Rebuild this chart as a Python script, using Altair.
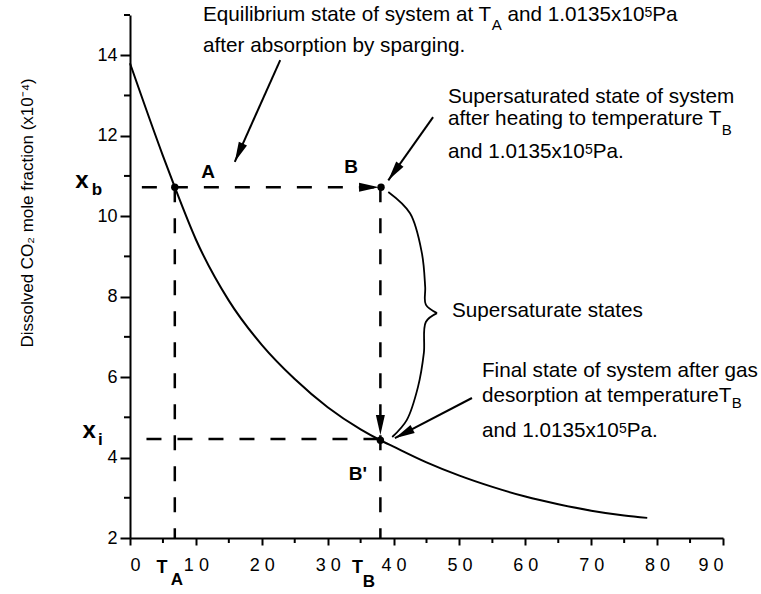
import math
import altair as alt
import pandas as pd

# ---------------- data ----------------
temp_c = [0, 5, 6.8, 10, 15, 20, 25, 30, 35, 38.0, 40, 45, 50, 55, 60, 65, 70, 75, 78.5]
co2_frac = [13.8, 11.5, 10.72, 9.42, 7.9, 6.8, 5.95, 5.25, 4.7, 4.43, 4.27, 3.88, 3.55, 3.27, 3.03, 2.84, 2.68, 2.56, 2.5]

x_ticks = [0, 10, 20, 30, 40, 50, 60, 70, 80, 90]
x_minor = [5, 15, 25, 35, 45, 55, 65, 75, 85]
y_ticks = [2, 4, 6, 8, 10, 12, 14]
y_minor = [3, 5, 7, 9, 11, 13, 15]

state_name = ["A", "B", "B'"]
state_t = [6.8, 38.1, 38.0]
state_x = [10.72, 10.72, 4.43]

# dashed guide lines (segment id, point order, temperature, mole fraction)
guide_id = ["xb", "xb", "ta", "ta", "tb", "tb", "xi", "xi"]
guide_o = [0, 1, 0, 1, 0, 1, 0, 1]
guide_t = [1.8, 37.7, 6.8, 6.8, 38.0, 38.0, 2.5, 38.0]
guide_x = [10.72, 10.72, 10.72, 2.0, 10.72, 2.0, 4.46, 4.46]

# solid annotation arrows (start -> tip)
arrow_t0 = [22.8, 46.0, 51.9]
arrow_x0 = [13.88, 12.46, 5.48]
arrow_t1 = [15.9, 39.2, 40.2]
arrow_x1 = [11.35, 10.89, 4.48]

# arrow heads: tip and the point they come from
head_t = [37.8, 38.0, 15.9, 39.2, 40.2]
head_x = [10.72, 4.56, 11.35, 10.89, 4.48]
head_from_t = [6.8, 38.0, 22.8, 46.0, 51.9]
head_from_x = [10.72, 10.72, 13.88, 12.46, 5.48]

# brace between B and B'
brace_seg = ["u"] * 6 + ["l"] * 6
brace_t = [39.2, 42.5, 44.3, 44.8, 44.9, 46.6, 46.6, 44.9, 44.6, 43.7, 42.0, 39.8]
brace_x = [10.60, 10.07, 9.08, 8.24, 7.80, 7.59, 7.59, 7.37, 6.60, 5.75, 4.93, 4.51]

# annotation lines: start (temperature, mole fraction at baseline) and pieces
# piece = (text, font size, baseline shift in px: + down / - up)
line_t = [11.08, 11.08, 48.26, 48.26, 48.26, 48.87, 53.42, 53.42, 53.42]
line_x = [14.85, 14.08, 12.81, 12.27, 11.45, 7.49, 6.00, 5.38, 4.51]
line_pieces = [
    [("Equilibrium state of system at T", 20.7, 0), ("A", 15, 9), (" and 1.0135x10", 20.7, 0), ("5", 14, -4), ("Pa", 20.7, 0)],
    [("after absorption by sparging.", 20.7, 0)],
    [("Supersaturated state of system", 20.7, 0)],
    [("after heating to temperature T", 20.7, 0), ("B", 15, 10)],
    [("and 1.0135x10", 20.7, 0), ("5", 14, -4), ("Pa.", 20.7, 0)],
    [("Supersaturate states", 20.7, 0)],
    [("Final state of system after gas", 20.7, 0)],
    [("desorption at temperatureT", 20.7, 0), ("B", 15, 6)],
    [("and 1.0135x10", 20.7, 0), ("5", 14, -4), ("Pa.", 20.7, 0)],
]

# bold labels (centered)
lab = ["A", "B", "B'", "x", "b", "x", "i", "T", "A", "T", "B"]
lab_t = [11.84, 33.54, 34.6, -7.3, -5.0, -6.2, -4.5, 4.86, 7.13, 34.53, 36.27]
lab_x = [10.95, 11.07, 3.44, 10.70, 10.53, 4.49, 4.31, 1.13, 0.83, 1.13, 0.78]
lab_size = [19, 19, 19, 24, 17, 24, 17, 18, 17, 18, 17]

y_title = "Dissolved CO\u2082 mole fraction (x10\u207b\u2074)"
y_title_t = -15.48
y_title_x = 10.08

# ---------------- layout helpers ----------------
W, H = 593, 523
FONT = "Liberation Sans"
px_t = W / 90.0
px_x = H / 13.0

# Liberation Sans advance widths (1/1000 em)
ADV = {" ": 278, ".": 278, "'": 191}
for ch in "0123456789":
    ADV[ch] = 556
ADV.update({"a": 556, "b": 556, "c": 500, "d": 556, "e": 556, "f": 278, "g": 556, "h": 556,
            "i": 222, "j": 222, "k": 500, "l": 222, "m": 833, "n": 556, "o": 556, "p": 556,
            "q": 556, "r": 333, "s": 500, "t": 278, "u": 556, "v": 500, "w": 722, "x": 500,
            "y": 500, "z": 500, "A": 667, "B": 667, "E": 667, "F": 611, "P": 667, "S": 667,
            "T": 611})


def text_width(s, size):
    return sum(ADV.get(c, 556) for c in s) * size / 1000.0


txt_rows = []
for t0, x0, pieces in zip(line_t, line_x, line_pieces):
    cur = t0
    for s, sz, shift in pieces:
        lead = len(s) - len(s.lstrip(" "))
        cur += text_width(" " * lead, sz) / px_t
        s2 = s.lstrip(" ")
        txt_rows.append({"s": s2, "t": cur, "x": x0 - shift / px_x, "sz": sz})
        cur += text_width(s2, sz) / px_t

# ---------------- chart ----------------
xs = alt.Scale(domain=[0, 90], nice=False, zero=False)
ys = alt.Scale(domain=[2, 15], nice=False, zero=False)

x_axis = alt.Axis(values=x_ticks, title=None, grid=False, tickSize=7, tickWidth=2,
                  domainWidth=2, domainColor="black", tickColor="black",
                  labelColor="black", labelFont=FONT, labelFontSize=18, labelPadding=11,
                  labelExpr="datum.value < 10 ? datum.label : floor(datum.value/10) + ' ' + (datum.value % 10)")
y_axis = alt.Axis(values=y_ticks, title=None, grid=False, tickSize=10, tickWidth=2,
                  domainWidth=2, domainColor="black", tickColor="black",
                  labelColor="black", labelFont=FONT, labelFontSize=18, labelPadding=3)


def X(f="t"):
    return alt.X(f"{f}:Q", scale=xs, axis=x_axis)


def Y(f="x"):
    return alt.Y(f"{f}:Q", scale=ys, axis=y_axis)


curve_df = pd.DataFrame({"t": temp_c, "x": co2_frac})
curve = alt.Chart(curve_df).mark_line(color="black", strokeWidth=2, interpolate="monotone").encode(
    x=X(), y=Y())

guide_df = pd.DataFrame({"id": guide_id, "o": guide_o, "t": guide_t, "x": guide_x})
guides = alt.Chart(guide_df).mark_line(color="black", strokeWidth=2.5, strokeDash=[15, 16]).encode(
    x=X(), y=Y(), detail="id:N", order=alt.Order("o:Q"))

arr_rows = []
for i in range(len(arrow_t0)):
    arr_rows.append({"id": i, "o": 0, "t": arrow_t0[i], "x": arrow_x0[i]})
    arr_rows.append({"id": i, "o": 1, "t": arrow_t1[i], "x": arrow_x1[i]})
arrows = alt.Chart(pd.DataFrame(arr_rows)).mark_line(color="black", strokeWidth=2).encode(
    x=X(), y=Y(), detail="id:N", order=alt.Order("o:Q"))

angles = []
for i in range(len(head_t)):
    dx = (head_t[i] - head_from_t[i]) * px_t
    dy = -(head_x[i] - head_from_x[i]) * px_x
    angles.append(math.degrees(math.atan2(dx, -dy)) % 360)
head_df = pd.DataFrame({"t": head_t, "x": head_x, "ang": angles})
heads = alt.Chart(head_df).mark_point(
    shape="M0,0L0.45,2L-0.45,2Z", filled=True, size=400, color="black", opacity=1, strokeWidth=0
).encode(x=X(), y=Y(), angle=alt.Angle("ang:Q", scale=None))

brace_df = pd.DataFrame({"seg": brace_seg, "o": list(range(len(brace_t))), "t": brace_t, "x": brace_x})
brace = alt.Chart(brace_df).mark_line(color="black", strokeWidth=1.8, interpolate="catmull-rom").encode(
    x=X(), y=Y(), detail="seg:N", order=alt.Order("o:Q"))

dots_df = pd.DataFrame({"name": state_name, "t": state_t, "x": state_x})
dots = alt.Chart(dots_df).mark_circle(color="black", size=55, opacity=1).encode(x=X(), y=Y())

xminor = alt.Chart(pd.DataFrame({"t": x_minor})).mark_rule(color="black", strokeWidth=2).encode(
    x=X(), y=alt.value(H), y2=alt.value(H + 5))
yminor = alt.Chart(pd.DataFrame({"x": y_minor})).mark_rule(color="black", strokeWidth=2).encode(
    y=Y(), x=alt.value(-6), x2=alt.value(0))

texts = alt.Chart(pd.DataFrame(txt_rows)).mark_text(
    align="left", baseline="alphabetic", font=FONT, color="black").encode(
    x=X(), y=Y(), text="s:N", size=alt.Size("sz:Q", scale=None))

lab_df = pd.DataFrame({"s": lab, "t": lab_t, "x": lab_x, "sz": lab_size})
labels = alt.Chart(lab_df).mark_text(align="center", baseline="alphabetic", font=FONT,
                                     fontWeight="bold", color="black").encode(
    x=X(), y=Y(), text="s:N", size=alt.Size("sz:Q", scale=None))

yt_df = pd.DataFrame({"s": [y_title], "t": [y_title_t], "x": [y_title_x]})
ytitle = alt.Chart(yt_df).mark_text(angle=270, align="center", baseline="middle", font=FONT,
                                    fontSize=17, color="black").encode(x=X(), y=Y(), text="s:N")

chart = alt.layer(curve, guides, arrows, brace, heads, dots, xminor, yminor, texts, labels, ytitle).properties(
    width=W, height=H,
    padding={"left": 130, "top": 15, "right": 38, "bottom": 56},
    autosize=alt.AutoSizeParams(type="none"),
    background="white",
).configure_view(stroke=None)

chart.save("out.html", embed_options={"renderer": "svg", "actions": False})
